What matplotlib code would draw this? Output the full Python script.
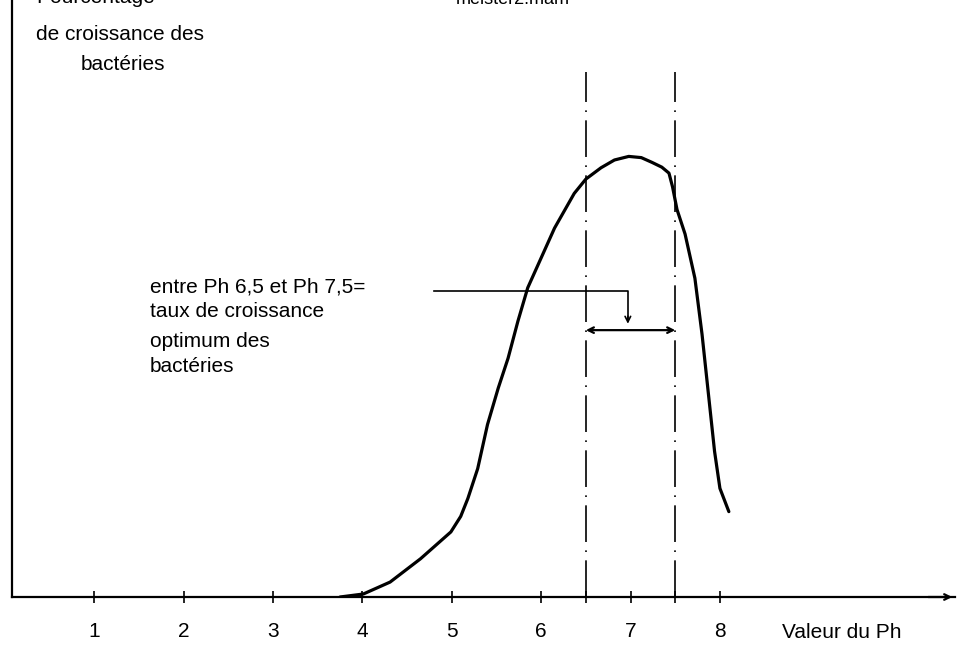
import numpy as np
import matplotlib
matplotlib.use("Agg")
import matplotlib.pyplot as plt

# courbe : pH -> pourcentage de croissance
ph = [3.75, 4.01, 4.31, 4.65, 4.99, 5.10, 5.18, 5.29, 5.40, 5.52, 5.63, 5.74,
      5.85, 6.00, 6.15, 6.37, 6.50, 6.67, 6.82, 6.98, 7.12, 7.24, 7.35, 7.43,
      7.47, 7.52, 7.61, 7.72, 7.80, 7.88, 7.94, 8.00, 8.10]
croissance = [0.0, 0.5, 2.5, 6.4, 10.9, 13.5, 16.5, 21.5, 28.9, 35.0, 40.0, 46.2,
              51.8, 56.8, 61.8, 67.6, 70.0, 71.9, 73.2, 73.8, 73.6, 72.8, 72.0, 71.0,
              68.7, 64.9, 60.8, 53.4, 44.0, 32.8, 24.4, 18.2, 14.3]

ticks_ph = [1, 2, 3, 4, 5, 6, 7, 8]
tick_labels = ["1", "2", "3", "4", "5", "6", "7", "8"]
bornes_optimum = [6.5, 7.5]

plt.rcParams["font.family"] = ["Liberation Sans", "DejaVu Sans"]

fig = plt.figure(figsize=(9.58, 6.47), dpi=100)
ax = fig.add_axes([12 / 958, 50 / 647, 943 / 958, 597 / 647])
ax.set_xlim(0.08, 10.63)
ax.set_ylim(0, 100)

for s in ["top", "right"]:
    ax.spines[s].set_visible(False)
ax.spines["left"].set_linewidth(1.6)
ax.spines["bottom"].set_linewidth(1.6)

ax.plot(ph, croissance, color="black", lw=2.3, solid_capstyle="round",
        solid_joinstyle="round")

# lignes mixtes a pH 6,5 et 7,5
for b in bornes_optimum:
    ax.plot([b, b], [0, 88], color="black", lw=1.2, linestyle=(0, (22, 5, 1, 5)))

ax.set_xticks(ticks_ph + bornes_optimum)
ax.set_xticklabels(tick_labels + ["", ""], fontsize=15)
ax.tick_params(axis="x", direction="inout", length=8, width=1.2, pad=14)
ax.set_yticks([])

ax.annotate("", xy=(10.63, 0), xytext=(10.3, 0),
            arrowprops=dict(arrowstyle="->", lw=1.6, color="black"),
            annotation_clip=False)
ax.text(8.7, -6.0, "Valeur du Ph", fontsize=15, ha="left", va="center",
        clip_on=False)

# titre de l'axe vertical (coupe en haut comme sur l'original)
ax.text(0.35, 100.5, "Pourcentage", fontsize=15, ha="left", va="center",
        clip_on=False)
ax.text(0.35, 94.3, "de croissance des", fontsize=15, ha="left", va="center")
ax.text(0.85, 89.2, "bactéries", fontsize=15, ha="left", va="center")

# annotation de la zone optimum
ax.text(1.62, 51.9, "entre Ph 6,5 et Ph 7,5=", fontsize=15, ha="left", va="center")
ax.text(1.62, 47.8, "taux de croissance", fontsize=15, ha="left", va="center")
ax.text(1.62, 42.8, "optimum des", fontsize=15, ha="left", va="center")
ax.text(1.62, 38.6, "bactéries", fontsize=15, ha="left", va="center")
ax.plot([4.8, 6.97, 6.97], [51.3, 51.3, 46.3], color="black", lw=1.2)
ax.annotate("", xy=(6.97, 45.3), xytext=(6.97, 47.5),
            arrowprops=dict(arrowstyle="->", lw=1.2, color="black"))
ax.annotate("", xy=(6.5, 44.7), xytext=(7.5, 44.7),
            arrowprops=dict(arrowstyle="<->", lw=1.6, color="black",
                            shrinkA=0, shrinkB=0))

fig.text(0.535, 1.0, "meister2.mam", fontsize=13, ha="center", va="center")

fig.savefig("out.png", dpi=100)
